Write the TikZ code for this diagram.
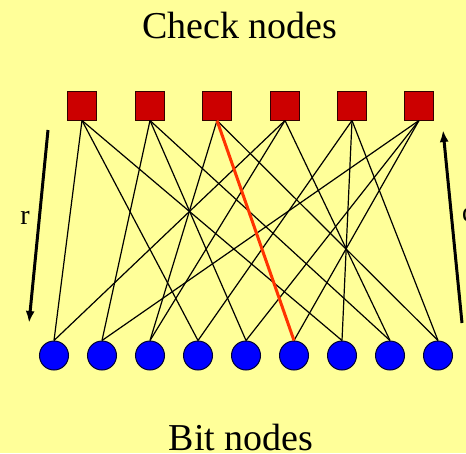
\documentclass[tikz,border=0pt]{standalone}
\usepackage{fontspec}
\setmainfont{Liberation Serif}
\usetikzlibrary{arrows.meta}
\definecolor{bgyellow}{HTML}{FFFF99}
\definecolor{checkred}{HTML}{CC0000}
\definecolor{bitblue}{HTML}{0000FF}
\definecolor{hilite}{HTML}{FF3300}
\begin{document}
\begin{tikzpicture}[x=1pt,y=-1pt,
  checknode/.style={draw=black!80!red,line width=1pt,fill=checkred,minimum size=29pt,inner sep=0pt},
  bitnode/.style={circle,draw=black!80!blue,line width=1pt,fill=bitblue,minimum size=29pt,inner sep=0pt},
  edge/.style={line width=1.2pt,black},
  hiedge/.style={line width=3pt,hilite},
  flow/.style={line width=3pt,black,-{Latex[length=12pt,width=9pt]}},
  title/.style={font=\fontsize{38}{40}\selectfont,inner sep=0pt},
  dirlabel/.style={font=\fontsize{28}{30}\selectfont,inner sep=0pt}]
\fill[bgyellow] (0,0) rectangle (466,453);
\useasboundingbox (0,0) rectangle (466,453);
\node[title] (ttop) at (240,26) {Check nodes};
\node[title] (tbot) at (241,437) {Bit nodes};
\foreach \i/\x in {1/82,2/150,3/217,4/285,5/352,6/419}
  \node[checknode] (c\i) at (\x,105.5) {};
\foreach \i/\x in {1/54,2/102,3/150,4/198,5/246,6/294,7/342,8/390,9/438}
  \node[bitnode] (b\i) at (\x,355.5) {};
\foreach \c/\b in {1/1,1/4,1/7,2/2,2/5,2/8,3/3,3/9,4/1,4/3,4/8,5/4,5/7,5/9,6/2,6/5,6/6}
  \draw[edge] (c\c.south) -- (b\b.north);
\draw[hiedge] (c3.south) -- (b6.north);
\coordinate (lt) at (48,130);
\coordinate (lb) at (29,323);
\coordinate (rb) at (462,323);
\coordinate (rt) at (443,130);
\draw[flow] (lt) -- (lb);
\draw[flow] (rb) -- (rt);
\node[dirlabel] (lr) at (25,218) {r};
\node[dirlabel,anchor=west] (lq) at (462,218) {q};
\end{tikzpicture}
\end{document}
